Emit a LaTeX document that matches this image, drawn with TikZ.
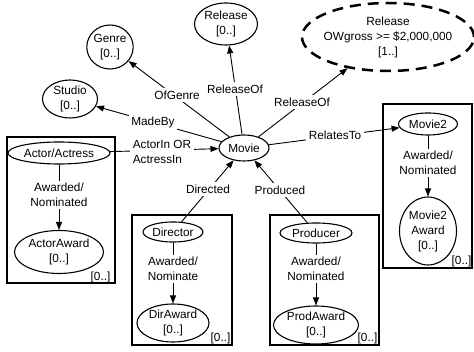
\documentclass[tikz,border=0pt]{standalone}
\usepackage{fontspec}
\setmainfont{Liberation Sans}
\usetikzlibrary{shapes.geometric,arrows.meta}
\begin{document}
\begin{tikzpicture}[x=1pt,y=-1pt,
  every node/.style={font=\fontsize{11.8}{15}\selectfont, align=center},
  ent/.style={ellipse, draw, line width=1.1pt, inner sep=0pt},
  lbl/.style={fill=white, inner sep=2.5pt},
  card/.style={inner sep=0pt, anchor=base east},
  grp/.style={draw, line width=1.1pt, inner sep=0pt},
  rel/.style={line width=0.9pt},
  arr/.style={rel, -{Triangle[length=8pt,width=6pt]}}]
\useasboundingbox (0,0) rectangle (474,352);

% group boxes
\node[grp, minimum width=108pt, minimum height=146pt] (actbox) at (61,210) {};
\node[grp, minimum width=100pt, minimum height=130pt] (dirbox) at (182,280) {};
\node[grp, minimum width=109pt, minimum height=130pt] (prodbox) at (324.5,280) {};
\node[grp, minimum width=89pt, minimum height=164pt] (m2box) at (427.5,186) {};

% entities
\node[ent, minimum width=50pt, minimum height=26pt] (movie) at (244,148) {Movie};
\node[ent, minimum width=46pt, minimum height=44pt] (genre) at (110,47) {Genre\\{[0..]}};
\node[ent, minimum width=63pt, minimum height=42pt] (release) at (226,24) {Release\\{[0..]}};
\node[ent, minimum width=55pt, minimum height=38pt] (studio) at (70,99) {Studio\\{[0..]}};
\node[ent, line width=2.5pt, dash pattern=on 11pt off 7pt, inner xsep=-4pt,
      minimum width=172pt, minimum height=68pt] (bigrel) at (388,37)
      {Release\\OWgross >= \$2,000,000\\{[1..]}};
\node[ent, minimum width=102pt, minimum height=22pt] (actor) at (59,153) {Actor/Actress};
\node[ent, minimum width=89pt, minimum height=43pt] (actaward) at (59,252) {ActorAward\\{[0..]}};
\node[ent, minimum width=60pt, minimum height=20pt] (director) at (173,232) {Director};
\node[ent, minimum width=72pt, minimum height=38pt] (diraward) at (173,323) {DirAward\\{[0..]}};
\node[ent, minimum width=72pt, minimum height=20pt] (producer) at (316,233) {Producer};
\node[ent, minimum width=85pt, minimum height=38pt] (prodaward) at (316,325) {ProdAward\\{[0..]}};
\node[ent, minimum width=59pt, minimum height=22pt] (movie2) at (428,124) {Movie2};
\node[ent, minimum width=57pt, minimum height=68pt] (m2award) at (428,231) {Movie2\\Award\\{[0..]}};

% connectors
\draw[arr] (movie) -- (genre);
\draw[arr] (movie) -- (studio);
\draw[arr] (movie) -- (release);
\draw[arr] (movie) -- (bigrel);
\draw[arr] (movie) -- (movie2);
\draw[arr] (actor) -- (movie);
\draw[arr] (director) -- (movie);
\draw[arr] (producer) -- (movie);
\draw[arr] (actor) -- (actaward);
\draw[arr] (director) -- (diraward);
\draw[arr] (producer) -- (prodaward);
\draw[arr] (movie2) -- (m2award);

% connector labels
\node[lbl] (lgenre) at (177,95) {OfGenre};
\node[lbl] (lstudio) at (153,122) {MadeBy};
\node[lbl] (lrel) at (235,89) {ReleaseOf};
\node[lbl] (lbig) at (302,102) {ReleaseOf};
\node[lbl] (lm2) at (335,135) {RelatesTo};
\node[lbl, align=left] (lact) at (162,152) {ActorIn OR\\ActressIn};
\node[lbl] (ldir) at (208,189) {Directed};
\node[lbl] (lprod) at (280,190) {Produced};
\node[lbl] (lactaw) at (59,195) {Awarded/\\Nominated};
\node[lbl] (ldiraw) at (173,269) {Awarded/\\Nominate};
\node[lbl] (lprodaw) at (316,269) {Awarded/\\Nominated};
\node[lbl] (lm2aw) at (428,163) {Awarded/\\Nominated};

% group cardinalities
\node[card] (cact) at ([shift={(-5,-3)}]actbox.south east) {[0..]};
\node[card] (cdir) at ([shift={(-2,-4)}]dirbox.south east) {[0..]};
\node[card] (cprod) at ([shift={(-2,-4)}]prodbox.south east) {[0..]};
\node[card] (cm2) at ([shift={(-1,-4)}]m2box.south east) {[0..]};
\end{tikzpicture}
\end{document}
